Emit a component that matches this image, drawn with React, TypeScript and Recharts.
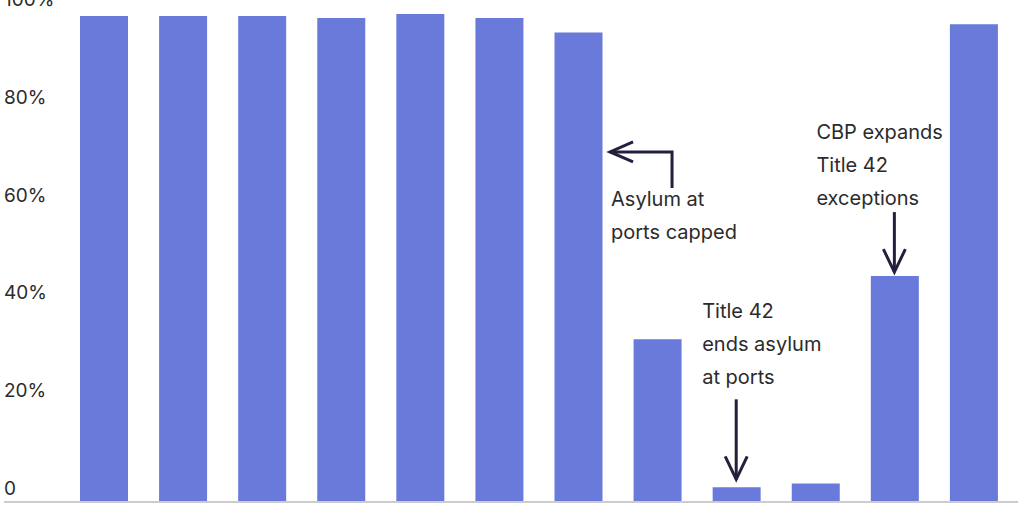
import { BarChart, Bar, XAxis, YAxis, ReferenceDot } from 'recharts'

// fiscal years (not labelled in the picture)
const years = ['FY2012', 'FY2013', 'FY2014', 'FY2015', 'FY2016', 'FY2017', 'FY2018', 'FY2019', 'FY2020', 'FY2021', 'FY2022', 'FY2023']
const shares = [99.4, 99.4, 99.4, 99.0, 99.8, 99.0, 96.0, 33.3, 3.0, 3.8, 46.2, 97.7]
const yTicks = [0, 20, 40, 60, 80, 100]

const chartData = years.map((year, i) => ({ year, share: shares[i] }))

const INK = '#241f3d'
const TEXT = '#2b2b2b'
const FONT = 'Inter, "Noto Sans", sans-serif'

const YTick = (props: any) => {
  const { y, payload } = props
  const label = payload.value === 0 ? '0' : `${payload.value}%`
  return (
    <text x={4} y={y - 7} fill={TEXT} fontSize={19} fontFamily={FONT} textAnchor="start">
      {label}
    </text>
  )
}

const Lines = ({ x, y, lines }: { x: number; y: number; lines: string[] }) => (
  <text x={x} y={y} fill={TEXT} fontSize={20} fontFamily={FONT}>
    {lines.map((l, i) => (
      <tspan key={l} x={x} dy={i === 0 ? 0 : 33}>
        {l}
      </tspan>
    ))}
  </text>
)

// elbow arrow pointing left, next to the FY2018 bar
const CappedNote = (props: any) => {
  const { cx, cy } = props
  const tip = cx + 32
  return (
    <g>
      <path d={`M${tip} ${cy} H${cx + 94} V${cy + 36}`} fill="none" stroke={INK} strokeWidth={3} />
      <path d={`M${tip + 23} ${cy - 10} L${tip} ${cy} L${tip + 23} ${cy + 10}`} fill="none" stroke={INK} strokeWidth={3} />
      <Lines x={cx + 33} y={cy + 54} lines={['Asylum at', 'ports capped']} />
    </g>
  )
}

const downArrow = (cx: number, tip: number, len: number) => (
  <g>
    <path d={`M${cx} ${tip - len} V${tip}`} stroke={INK} strokeWidth={3} />
    <path d={`M${cx - 11} ${tip - 23} L${cx} ${tip} L${cx + 11} ${tip - 23}`} fill="none" stroke={INK} strokeWidth={3} />
  </g>
)

const Title42Note = (props: any) => {
  const { cx, cy } = props
  return (
    <g>
      {downArrow(cx, cy - 8, 80)}
      <Lines x={cx - 34} y={cy - 169} lines={['Title 42', 'ends asylum', 'at ports']} />
    </g>
  )
}

const ExceptionsNote = (props: any) => {
  const { cx, cy } = props
  return (
    <g>
      {downArrow(cx, cy - 4, 60)}
      <Lines x={cx - 78} y={cy - 137} lines={['CBP expands', 'Title 42', 'exceptions']} />
    </g>
  )
}

export default function App() {
  return (
    <div style={{ position: 'absolute', top: 0, left: 0, width: 1024, height: 512, background: '#fff' }}>
      <BarChart width={1024} height={512} data={chartData} margin={{ top: 13, right: 6, left: 3, bottom: 9 }}>
        <XAxis
          dataKey="year"
          tick={false}
          tickLine={false}
          height={1}
          axisLine={{ stroke: '#cccccc', strokeWidth: 2 }}
          padding={{ left: 60, right: 5 }}
        />
        <YAxis
          domain={[0, 100]}
          ticks={yTicks}
          width={1}
          axisLine={false}
          tickLine={false}
          tick={<YTick />}
          allowDataOverflow
        />
        <Bar dataKey="share" fill="#6a7ada" barSize={48} isAnimationActive={false} />
        <ReferenceDot x="FY2018" y={71.6} ifOverflow="visible" shape={CappedNote} />
        <ReferenceDot x="FY2020" y={3.0} ifOverflow="visible" shape={Title42Note} />
        <ReferenceDot x="FY2022" y={46.2} ifOverflow="visible" shape={ExceptionsNote} />
      </BarChart>
    </div>
  )
}
